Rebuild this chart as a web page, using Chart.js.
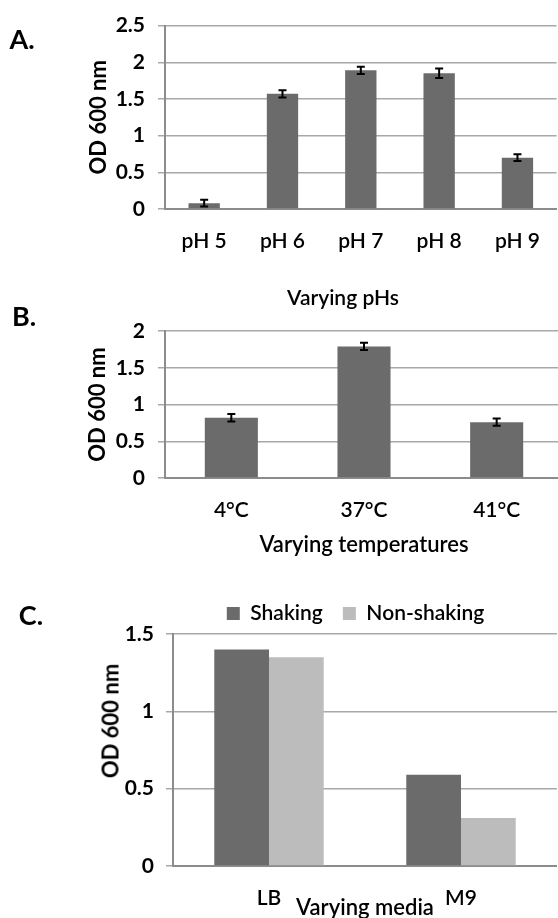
<!DOCTYPE html>
<html>
<head>
<meta charset="utf-8">
<script src="https://cdn.jsdelivr.net/npm/chart.js@4.4.0/dist/chart.umd.min.js"></script>
<style>
html, body { margin: 0; padding: 0; width: 558px; height: 918px; overflow: hidden; background: #fff; }
canvas { position: absolute; left: 0; }
.txt { position: absolute; font-family: Lato, 'Liberation Sans', sans-serif; font-weight: 600; color: #000; transform: translate(-50%, -50%); white-space: nowrap; }
.bold { font-weight: bold; }
.rot { transform: translate(-50%, -50%) rotate(-90deg); }
</style>
</head>
<body>
<canvas id="chartA" width="560" height="300" style="top:0px"></canvas>
<canvas id="chartB" width="563" height="262" style="top:300px"></canvas>
<canvas id="chartC" width="557" height="370" style="top:560px"></canvas>

<div class="txt bold" style="left:22px; top:38px; font-size:27px">A.</div>
<div class="txt bold" style="left:24px; top:315px; font-size:27px">B.</div>
<div class="txt bold" style="left:31px; top:614px; font-size:27px">C.</div>
<div class="txt" style="left:343px; top:296px; font-size:21px">Varying pHs</div>
<div class="txt bold rot" style="left:110px; top:721px; font-size:22px">OD 600 nm</div>

<script>
// 資料
const phLabels = ['pH 5', 'pH 6', 'pH 7', 'pH 8', 'pH 9'];
const phValues = [0.08, 1.57, 1.89, 1.85, 0.70];
const phErrors = [0.045, 0.05, 0.05, 0.065, 0.045];
const phTicks = [0, 0.5, 1, 1.5, 2, 2.5];

const tempLabels = ['4°C', '37°C', '41°C'];
const tempValues = [0.82, 1.79, 0.76];
const tempErrors = [0.05, 0.05, 0.05];
const tempTicks = [0, 0.5, 1, 1.5, 2];

const mediaLabels = ['LB', 'M9'];
const shakingValues = [1.40, 0.59];
const nonShakingValues = [1.35, 0.31];
const mediaTicks = [0, 0.5, 1, 1.5];

const DARK = '#6b6b6b';
const LIGHT = '#bcbcbc';
const GRID = '#a8a8a8';
const AXIS = '#8c8c8c';

Chart.defaults.font.family = "Lato, 'Liberation Sans', sans-serif";
Chart.defaults.font.weight = 600;
Chart.defaults.color = '#000';

// 誤差線
const errorBars = {
    id: 'errorBars',
    afterDatasetsDraw(chart, args, opts) {
        if (!opts.errors) return;
        const ctx = chart.ctx;
        const yScale = chart.scales.y;
        const values = chart.data.datasets[0].data;
        ctx.save();
        ctx.strokeStyle = '#000';
        ctx.lineWidth = 2;
        chart.getDatasetMeta(0).data.forEach((bar, i) => {
            const yTop = yScale.getPixelForValue(values[i] + opts.errors[i]);
            const yBot = yScale.getPixelForValue(values[i] - opts.errors[i]);
            const x = bar.x;
            ctx.beginPath();
            ctx.moveTo(x, yTop); ctx.lineTo(x, yBot);
            ctx.moveTo(x - 4, yTop); ctx.lineTo(x + 4, yTop);
            ctx.moveTo(x - 4, yBot); ctx.lineTo(x + 4, yBot);
            ctx.stroke();
        });
        ctx.restore();
    }
};

// 圖例位置微調
const legendShift = {
    id: 'legendShift',
    afterLayout(chart, args, opts) {
        if (!opts.dx || !chart.legend) return;
        chart.legend.left += opts.dx;
        chart.legend.right += opts.dx;
    }
};

function yAxis(ticks, max, width, tickPad, title, titlePad) {
    return {
        min: 0,
        max: max,
        afterBuildTicks: s => { s.ticks = ticks.map(v => ({ value: v })); },
        grid: { color: GRID, lineWidth: 1.5, tickLength: 7 },
        border: { color: AXIS, width: 2 },
        ticks: { padding: tickPad, font: { size: 21, weight: 'bold' }, callback: v => String(v) },
        title: { display: !!title, text: title, font: { size: 22, weight: 'bold' }, padding: { top: titlePad, bottom: 0 } },
        afterFit: s => { s.width = width; }
    };
}

// A. pH
new Chart(document.getElementById('chartA').getContext('2d'), {
    type: 'bar',
    data: {
        labels: phLabels,
        datasets: [{ data: phValues, backgroundColor: DARK, categoryPercentage: 0.4, barPercentage: 1 }]
    },
    options: {
        responsive: false,
        animation: false,
        layout: { padding: { top: 24, left: 0, right: 0, bottom: 0 } },
        plugins: { legend: { display: false }, tooltip: { enabled: false }, errorBars: { errors: phErrors } },
        scales: {
            x: {
                grid: { display: false, drawTicks: false },
                border: { display: true, color: AXIS, width: 2 },
                ticks: { padding: 20, font: { size: 21 } },
                afterFit: s => { s.height = 300 - 209; }
            },
            y: yAxis(phTicks, 2.5, 165, 13, 'OD 600 nm', 86)
        }
    },
    plugins: [errorBars]
});

// B. 溫度
new Chart(document.getElementById('chartB').getContext('2d'), {
    type: 'bar',
    data: {
        labels: tempLabels,
        datasets: [{ data: tempValues, backgroundColor: DARK, categoryPercentage: 0.4, barPercentage: 1 }]
    },
    options: {
        responsive: false,
        animation: false,
        layout: { padding: { top: 31, left: 0, right: 0, bottom: 0 } },
        plugins: { legend: { display: false }, tooltip: { enabled: false }, errorBars: { errors: tempErrors } },
        scales: {
            x: {
                grid: { display: false, drawTicks: false },
                border: { display: true, color: AXIS, width: 2 },
                ticks: { padding: 20, font: { size: 21 } },
                title: { display: true, text: 'Varying temperatures', font: { size: 22 }, padding: { top: 0, bottom: 4 } },
                afterFit: s => { s.height = 262 - 178; }
            },
            y: yAxis(tempTicks, 2, 165, 13, 'OD 600 nm', 85)
        }
    },
    plugins: [errorBars]
});

// C. 培養基
new Chart(document.getElementById('chartC').getContext('2d'), {
    type: 'bar',
    data: {
        labels: mediaLabels,
        datasets: [
            { label: 'Shaking', data: shakingValues, backgroundColor: DARK, borderWidth: 0, categoryPercentage: 0.57, barPercentage: 1 },
            { label: 'Non-shaking', data: nonShakingValues, backgroundColor: LIGHT, borderWidth: 0, categoryPercentage: 0.57, barPercentage: 1 }
        ]
    },
    options: {
        responsive: false,
        animation: false,
        layout: { padding: { top: 23, left: 0, right: 0, bottom: 0 } },
        plugins: {
            legend: {
                display: true,
                position: 'top',
                maxHeight: 55,
                labels: { boxWidth: 13, boxHeight: 13, padding: 20, font: { size: 21 }, color: '#000' }
            },
            tooltip: { enabled: false },
            legendShift: { dx: 77 }
        },
        scales: {
            x: {
                grid: { display: false, drawTicks: false },
                border: { display: true, color: AXIS, width: 2 },
                ticks: { padding: 20, font: { size: 21 } },
                title: { display: true, text: 'Varying media', font: { size: 22 }, padding: { top: 0, bottom: 9 } },
                afterFit: s => { s.height = 370 - 306; }
            },
            y: yAxis(mediaTicks, 1.5, 173, 12, '', 0)
        }
    },
    plugins: [legendShift]
});
</script>
</body>
</html>
